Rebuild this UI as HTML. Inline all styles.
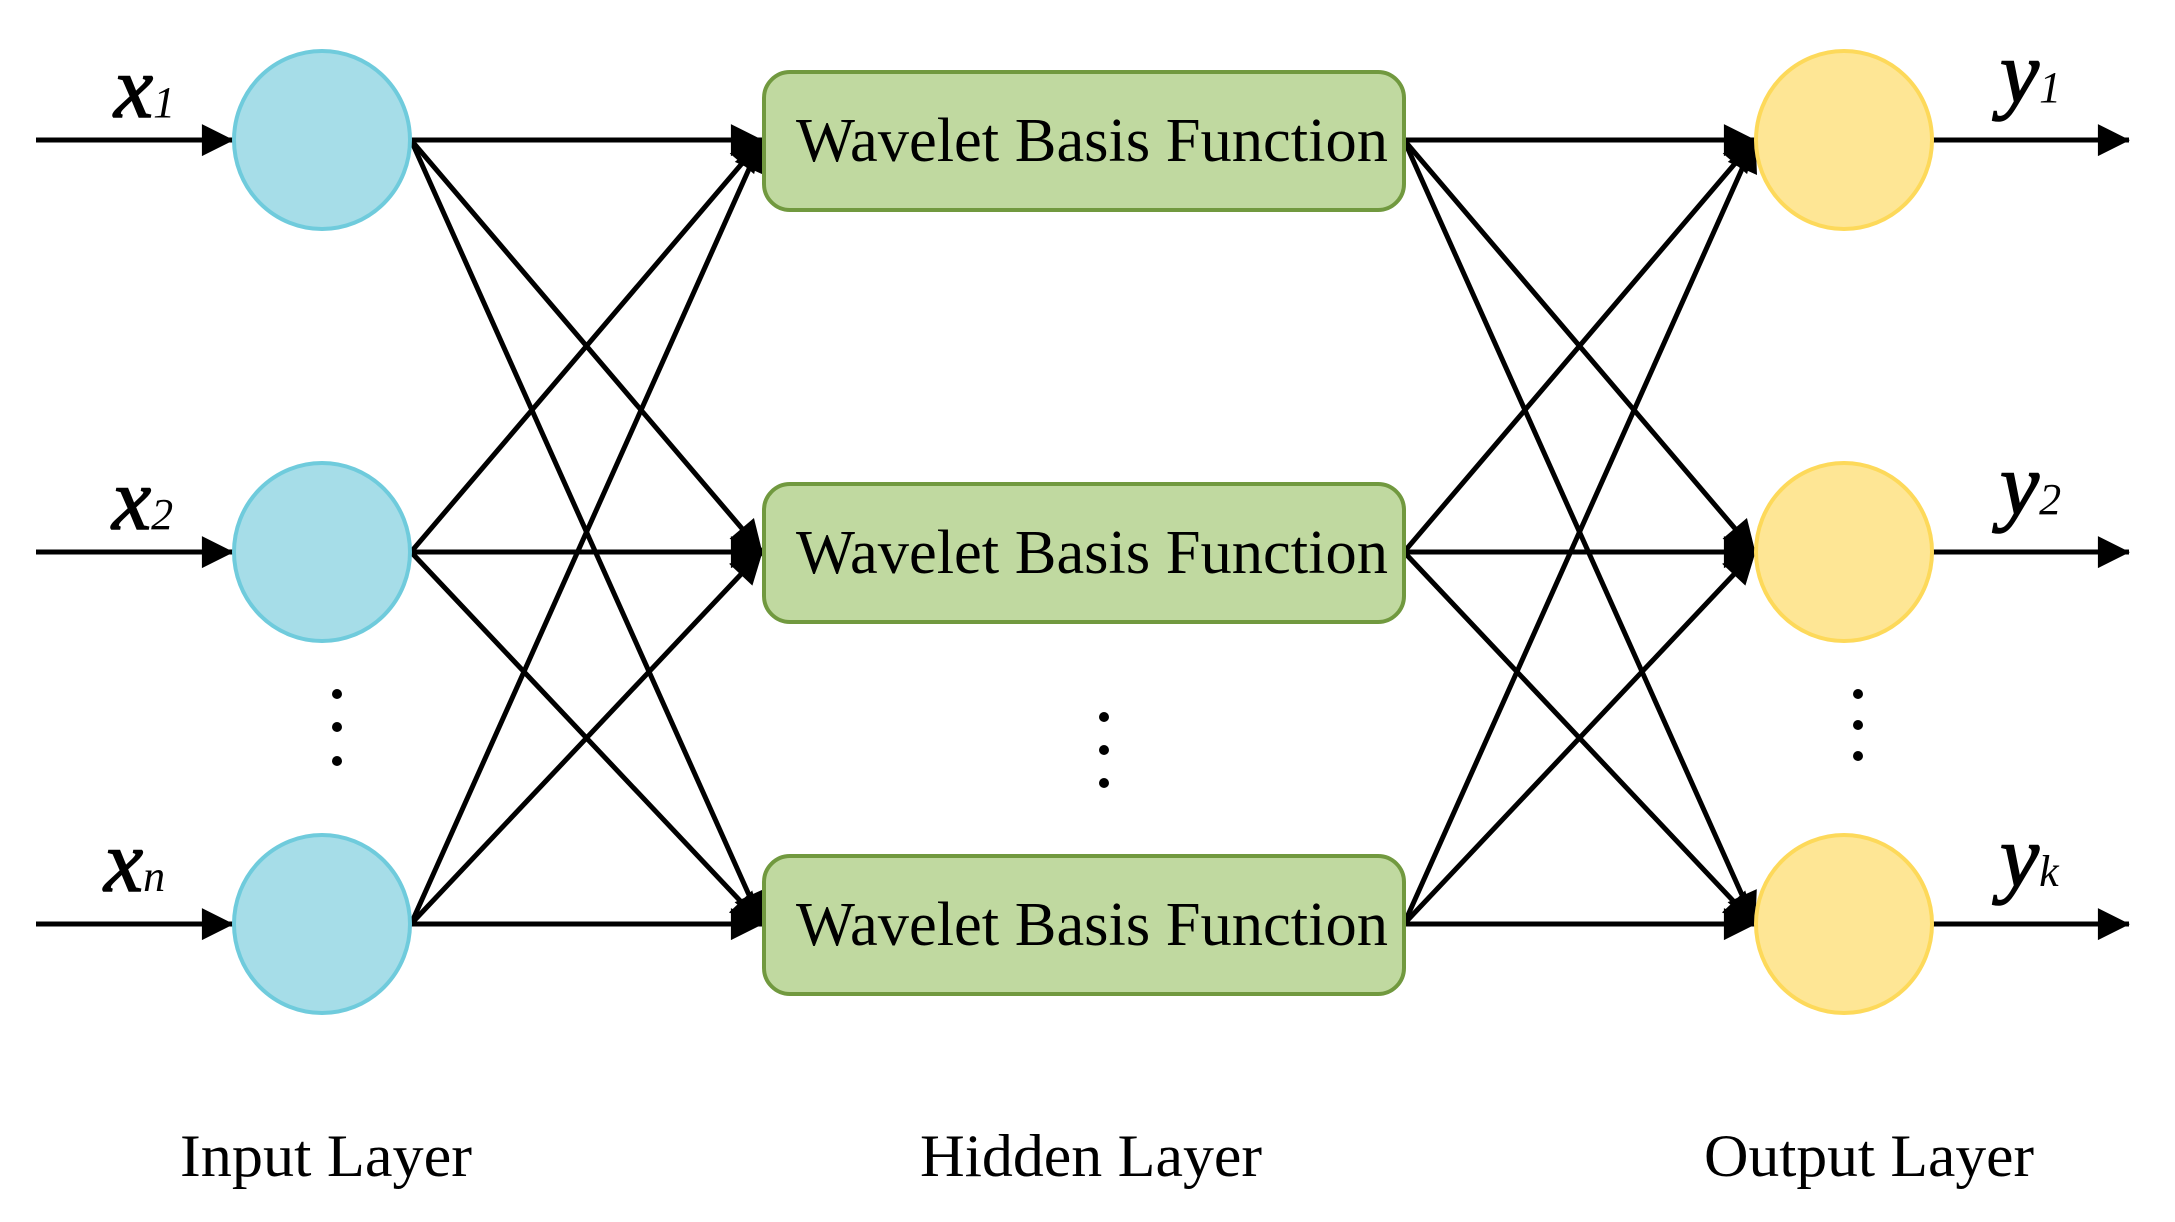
<!DOCTYPE html>
<html><head><meta charset="utf-8"><style>html,body{margin:0;padding:0;background:#fff}svg{display:block}</style></head>
<body>
<svg width="2175" height="1222" viewBox="0 0 2175 1222" xmlns="http://www.w3.org/2000/svg">
<defs>
<marker id="a" markerWidth="10" markerHeight="10" refX="9" refY="5" orient="auto" markerUnits="userSpaceOnUse" viewBox="0 0 10 10" style="overflow:visible">
<path d="M0,0 L10,5 L0,10 z" fill="#000" transform="scale(3.2) translate(-6.9,-3.4)"/>
</marker>
</defs>
<g stroke="#000" stroke-width="5" fill="none">
<line x1="36" y1="140" x2="233" y2="140" marker-end="url(#a)"/>
<line x1="36" y1="552" x2="233" y2="552" marker-end="url(#a)"/>
<line x1="36" y1="924" x2="233" y2="924" marker-end="url(#a)"/>
<line x1="411" y1="140" x2="762" y2="140" marker-end="url(#a)"/>
<line x1="411" y1="140" x2="762" y2="552" marker-end="url(#a)"/>
<line x1="411" y1="140" x2="762" y2="924" marker-end="url(#a)"/>
<line x1="411" y1="552" x2="762" y2="140" marker-end="url(#a)"/>
<line x1="411" y1="552" x2="762" y2="552" marker-end="url(#a)"/>
<line x1="411" y1="552" x2="762" y2="924" marker-end="url(#a)"/>
<line x1="411" y1="924" x2="762" y2="140" marker-end="url(#a)"/>
<line x1="411" y1="924" x2="762" y2="552" marker-end="url(#a)"/>
<line x1="411" y1="924" x2="762" y2="924" marker-end="url(#a)"/>
<line x1="1404" y1="140" x2="1755" y2="140" marker-end="url(#a)"/>
<line x1="1404" y1="140" x2="1755" y2="552" marker-end="url(#a)"/>
<line x1="1404" y1="140" x2="1755" y2="924" marker-end="url(#a)"/>
<line x1="1404" y1="552" x2="1755" y2="140" marker-end="url(#a)"/>
<line x1="1404" y1="552" x2="1755" y2="552" marker-end="url(#a)"/>
<line x1="1404" y1="552" x2="1755" y2="924" marker-end="url(#a)"/>
<line x1="1404" y1="924" x2="1755" y2="140" marker-end="url(#a)"/>
<line x1="1404" y1="924" x2="1755" y2="552" marker-end="url(#a)"/>
<line x1="1404" y1="924" x2="1755" y2="924" marker-end="url(#a)"/>
<line x1="1933" y1="140" x2="2129" y2="140" marker-end="url(#a)"/>
<line x1="1933" y1="552" x2="2129" y2="552" marker-end="url(#a)"/>
<line x1="1933" y1="924" x2="2129" y2="924" marker-end="url(#a)"/>
</g>
<g fill="#a6dde8" stroke="#6fcbdc" stroke-width="4">
<ellipse cx="322" cy="140" rx="88" ry="89"/>
<ellipse cx="322" cy="552" rx="88" ry="89"/>
<ellipse cx="322" cy="924" rx="88" ry="89"/>
</g>
<g fill="#fee695" stroke="#fdd95a" stroke-width="4">
<ellipse cx="1844" cy="140" rx="88" ry="89"/>
<ellipse cx="1844" cy="552" rx="88" ry="89"/>
<ellipse cx="1844" cy="924" rx="88" ry="89"/>
</g>
<g fill="#c0d9a0" stroke="#71993f" stroke-width="4">
<rect x="764" y="72" width="640" height="138" rx="26"/>
<rect x="764" y="484" width="640" height="138" rx="26"/>
<rect x="764" y="856" width="640" height="138" rx="26"/>
</g>
<g font-family="'Liberation Serif', serif" font-size="62" fill="#000">
<text x="796" y="161" textLength="592" lengthAdjust="spacingAndGlyphs">Wavelet Basis Function</text>
<text x="796" y="573" textLength="592" lengthAdjust="spacingAndGlyphs">Wavelet Basis Function</text>
<text x="796" y="945" textLength="592" lengthAdjust="spacingAndGlyphs">Wavelet Basis Function</text>
<text x="180" y="1176" font-size="60" textLength="292" lengthAdjust="spacingAndGlyphs">Input Layer</text>
<text x="920" y="1176" font-size="60" textLength="342" lengthAdjust="spacingAndGlyphs">Hidden Layer</text>
<text x="1704" y="1176" font-size="60" textLength="330" lengthAdjust="spacingAndGlyphs">Output Layer</text>
</g>
<g font-family="'Liberation Serif', serif" font-style="italic" fill="#000" stroke="#000" stroke-width="1.5">
<text x="114" y="117" font-size="88">x<tspan font-size="44" stroke-width="0">1</tspan></text>
<text x="112" y="529" font-size="88">x<tspan font-size="44" stroke-width="0">2</tspan></text>
<text x="104" y="891" font-size="88">x<tspan font-size="44" stroke-width="0">n</tspan></text>
<text x="2000" y="102" font-size="88">y<tspan font-size="44" stroke-width="0">1</tspan></text>
<text x="2000" y="514" font-size="88">y<tspan font-size="44" stroke-width="0">2</tspan></text>
<text x="2000" y="886" font-size="88">y<tspan font-size="44" stroke-width="0">k</tspan></text>
</g>
<g fill="#000">
<circle cx="337" cy="694" r="5"/><circle cx="337" cy="727" r="5"/><circle cx="337" cy="761" r="5"/>
<circle cx="1104" cy="717" r="5"/><circle cx="1104" cy="750" r="5"/><circle cx="1104" cy="783" r="5"/>
<circle cx="1858" cy="694" r="5"/><circle cx="1858" cy="725" r="5"/><circle cx="1858" cy="756" r="5"/>
</g>
</svg>
</body></html>
